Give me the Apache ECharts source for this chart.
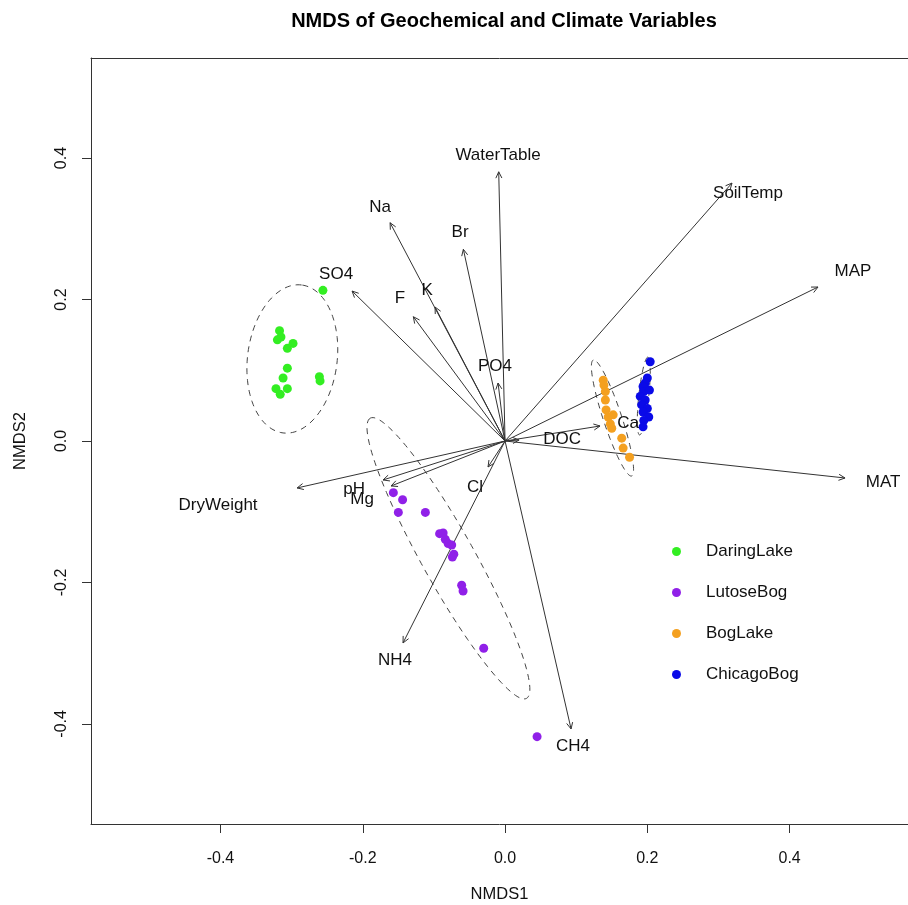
<!DOCTYPE html>
<html>
<head>
<meta charset="utf-8">
<script src="https://cdn.jsdelivr.net/npm/echarts@6/dist/echarts.min.js"></script>
<style>
html,body{margin:0;padding:0;background:#fff;}
#chart{width:908px;height:905px;}
</style>
</head>
<body>
<div id="chart"></div>
<script>
// ---- Site scores (NMDS1, NMDS2) ----
const daringX = [-0.256,-0.317,-0.320,-0.315,-0.306,-0.298,-0.306,-0.312,-0.261,-0.260,-0.322,-0.316,-0.306];
const daringY = [0.213,0.156,0.143,0.147,0.131,0.138,0.103,0.089,0.091,0.085,0.074,0.066,0.074];
const lutoseX = [-0.157,-0.144,-0.150,-0.112,-0.092,-0.087,-0.084,-0.080,-0.075,-0.072,-0.074,-0.061,-0.059,-0.030,0.045];
const lutoseY = [-0.073,-0.083,-0.101,-0.101,-0.131,-0.130,-0.139,-0.145,-0.147,-0.160,-0.164,-0.204,-0.212,-0.293,-0.418];
const boglakeX = [0.138,0.139,0.141,0.141,0.142,0.145,0.152,0.148,0.150,0.164,0.166,0.175];
const boglakeY = [0.086,0.079,0.070,0.058,0.044,0.034,0.037,0.024,0.018,0.004,-0.010,-0.023];
const chicagoX = [0.204,0.200,0.197,0.194,0.195,0.190,0.197,0.192,0.200,0.194,0.202,0.195,0.194,0.203];
const chicagoY = [0.112,0.089,0.082,0.077,0.070,0.063,0.058,0.051,0.046,0.041,0.034,0.029,0.020,0.072];

const groups = ['DaringLake','LutoseBog','BogLake','ChicagoBog'];
const groupColors = ['#33ee22','#9020e8','#f4a020','#0a0ae8'];

// ---- Envfit vectors ----
const vecNames = ['WaterTable','Na','Br','K','F','SO4','PO4','SoilTemp','MAP','MAT','DOC','Ca','pH','Mg','DryWeight','Cl','NH4','CH4'];
const vecX = [-0.0089,-0.1616,-0.0586,-0.0984,-0.1289,-0.2150,-0.0098,0.3190,0.4399,0.4779,0.0197,0.1335,-0.1715,-0.1602,-0.2923,-0.0239,-0.1434,0.0928];
const vecY = [0.3806,0.3086,0.2710,0.1894,0.1757,0.2120,0.0820,0.3647,0.2177,-0.0523,0.0014,0.0212,-0.0551,-0.0636,-0.0664,-0.0367,-0.2855,-0.4071];
const labX = [-0.0098,-0.1757,-0.0632,-0.1096,-0.1476,-0.2375,-0.0141,0.3415,0.4891,0.5313,0.0801,0.1729,-0.2122,-0.2010,-0.4034,-0.0422,-0.1546,0.0956];
const labY = [0.4042,0.3307,0.2954,0.2134,0.2021,0.2360,0.1060,0.3505,0.2403,-0.0580,0.0028,0.0254,-0.0678,-0.0820,-0.0905,-0.0650,-0.3095,-0.4311];

// ---- Group ellipses: centre, semi-axes, rotation (deg) ----
const ellCX = [-0.299,-0.0796,0.151,0.195];
const ellCY = [0.116,-0.1658,0.0325,0.0636];
const ellA = [0.1054,0.2265,0.0863,0.0554];
const ellB = [0.063,0.037,0.013,0.007];
const ellAng = [82.9,119,108.2,83.9];

// ---- Axis ticks ----
const xTicks = [-0.4,-0.2,0,0.2,0.4];
const yTicks = [-0.4,-0.2,0,0.2,0.4];

const FONT = "'Liberation Sans', Arial, Helvetica, sans-serif";
const zip = (a,b) => a.map((v,i)=>[v,b[i]]);
const ptsX = [daringX,lutoseX,boglakeX,chicagoX];
const ptsY = [daringY,lutoseY,boglakeY,chicagoY];

const chart = echarts.init(document.getElementById('chart'), null, {renderer:'canvas'});

const scatterSeries = groups.map((g,i)=>({
  name: g, type: 'scatter', data: zip(ptsX[i], ptsY[i]),
  symbol: 'circle', symbolSize: 9, z: 5,
  itemStyle: {color: groupColors[i], opacity: 1},
  emphasis: {disabled: true}
}));

const ellipseSeries = {
  type: 'custom', name: 'ellipses', silent: true, z: 3,
  data: ellCX.map((c,i)=>[c, ellCY[i], ellA[i], ellB[i], ellAng[i]]),
  renderItem: function(params, api){
    const cx = api.value(0), cy = api.value(1), a = api.value(2), b = api.value(3);
    const t = api.value(4) * Math.PI / 180;
    const pts = [];
    for (let k = 0; k <= 120; k++) {
      const p = k / 120 * 2 * Math.PI;
      const x = cx + a * Math.cos(p) * Math.cos(t) - b * Math.sin(p) * Math.sin(t);
      const y = cy + a * Math.cos(p) * Math.sin(t) + b * Math.sin(p) * Math.cos(t);
      pts.push(api.coord([x, y]));
    }
    return {type:'polyline', shape:{points: pts},
      style:{stroke:'#444', lineWidth:1, fill:null, lineDash:[6,5]}};
  }
};

const arrowSeries = {
  type: 'custom', name: 'vectors', silent: true, z: 4,
  data: vecX.map((v,i)=>[v, vecY[i]]),
  renderItem: function(params, api){
    const p0 = api.coord([0,0]);
    const p1 = api.coord([api.value(0), api.value(1)]);
    const ang = Math.atan2(p1[1]-p0[1], p1[0]-p0[0]);
    const L = 7, h = Math.PI/7;
    const a1 = [p1[0]-L*Math.cos(ang-h), p1[1]-L*Math.sin(ang-h)];
    const a2 = [p1[0]-L*Math.cos(ang+h), p1[1]-L*Math.sin(ang+h)];
    return {type:'group', children:[
      {type:'line', shape:{x1:p0[0],y1:p0[1],x2:p1[0],y2:p1[1]}, style:{stroke:'#333', lineWidth:1}},
      {type:'polyline', shape:{points:[a1,p1,a2]}, style:{stroke:'#333', lineWidth:1, fill:null}}
    ]};
  }
};

const labelSeries = {
  type: 'custom', name: 'vecLabels', silent: true, z: 6,
  data: labX.map((v,i)=>[v, labY[i], i]),
  renderItem: function(params, api){
    const p = api.coord([api.value(0), api.value(1)]);
    return {type:'text', x: p[0], y: p[1], style:{
      text: vecNames[api.value(2)], align:'center', verticalAlign:'middle',
      fill:'#111', fontSize:17, fontFamily: FONT}};
  }
};

const tickLabelFmt = v => (Math.abs(v) < 1e-9 ? 0 : v).toFixed(1);

const option = {
  backgroundColor: '#fff',
  animation: false,
  title: {
    text: 'NMDS of Geochemical and Climate Variables',
    left: 499, top: 6, textAlign: 'center',
    textStyle: {fontSize: 20, fontWeight: 'bold', color: '#000', fontFamily: FONT}
  },
  legend: {
    data: groups, orient: 'vertical', left: 667, top: 538,
    itemWidth: 9, itemHeight: 9, itemGap: 24, icon: 'circle',
    selectedMode: false,
    textStyle: {fontSize: 17, color: '#111', fontFamily: FONT, padding: [0,0,0,20]}
  },
  grid: {left: 91, right: 0, top: 58, bottom: 81, show: false, outerBoundsMode: 'none', containLabel: false},
  xAxis: [{
    type: 'value', min: -0.582, max: 0.5664, position: 'bottom',
    name: 'NMDS1', nameLocation: 'middle', nameGap: 62,
    nameTextStyle: {fontSize: 16.5, color: '#111', fontFamily: FONT},
    axisLine: {show: true, onZero: false, lineStyle: {color: '#333', width: 1}},
    splitLine: {show: false},
    axisTick: {show: true, inside: false, length: 9, customValues: xTicks, lineStyle: {color:'#333'}},
    axisLabel: {show: true, customValues: xTicks, margin: 27, fontSize: 16, color: '#111', fontFamily: FONT,
      formatter: tickLabelFmt}
  }, {
    type: 'value', min: -0.582, max: 0.5664, position: 'top',
    axisLine: {show: true, onZero: false, lineStyle: {color: '#333', width: 1}},
    splitLine: {show: false}, axisTick: {show: false}, axisLabel: {show: false}
  }],
  yAxis: {
    type: 'value', min: -0.5415, max: 0.5415, position: 'left',
    name: 'NMDS2', nameLocation: 'middle', nameGap: 62, nameRotate: 90,
    nameTextStyle: {fontSize: 16.5, color: '#111', fontFamily: FONT},
    axisLine: {show: true, onZero: false, lineStyle: {color: '#333', width: 1}},
    splitLine: {show: false},
    axisTick: {show: true, inside: false, length: 9, customValues: yTicks, lineStyle: {color:'#333'}},
    axisLabel: {show: true, customValues: yTicks, rotate: 90, margin: 21, fontSize: 16, color: '#111', fontFamily: FONT,
      formatter: tickLabelFmt}
  },
  series: [ellipseSeries, arrowSeries].concat(scatterSeries).concat([labelSeries])
};
chart.setOption(option);
</script>
</body>
</html>
